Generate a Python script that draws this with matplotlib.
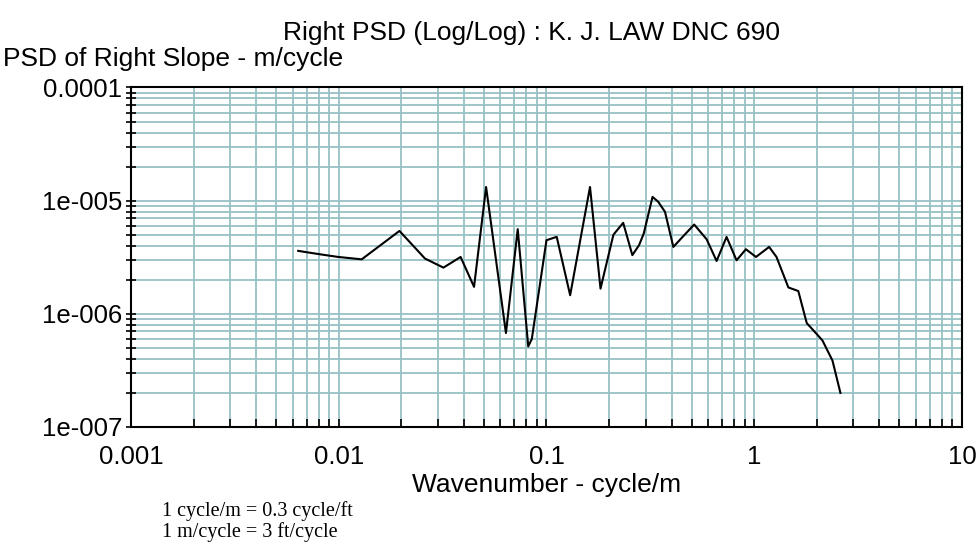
import numpy as np
import matplotlib.pyplot as plt
from matplotlib.ticker import LogLocator, NullFormatter, FixedLocator

# wavenumber (cycle/m) and PSD of right slope (m/cycle)
wavenumber = [0.00638, 0.00702, 0.00828, 0.00995, 0.0129, 0.0196, 0.026, 0.0319,
              0.0386, 0.0448, 0.0512, 0.0638, 0.0727, 0.0817, 0.085, 0.1, 0.112,
              0.13, 0.162, 0.182, 0.21, 0.234, 0.259, 0.279, 0.294, 0.324, 0.345,
              0.372, 0.408, 0.452, 0.514, 0.59, 0.659, 0.736, 0.822, 0.912, 1.02,
              1.18, 1.28, 1.46, 1.63, 1.79, 1.96, 2.13, 2.38, 2.6]
psd = [3.6e-6, 3.5e-6, 3.34e-6, 3.18e-6, 3.03e-6, 5.4e-6, 3.08e-6, 2.56e-6,
       3.18e-6, 1.73e-6, 1.32e-5, 6.76e-7, 5.6e-6, 5.15e-7, 6.0e-7, 4.47e-6, 4.79e-6,
       1.46e-6, 1.32e-5, 1.67e-6, 5.0e-6, 6.37e-6, 3.3e-6, 4.04e-6, 5.13e-6, 1.08e-5, 9.77e-6,
       7.96e-6, 3.9e-6, 4.78e-6, 6.15e-6, 4.56e-6, 2.93e-6, 4.78e-6, 2.97e-6, 3.72e-6, 3.18e-6,
       3.9e-6, 3.18e-6, 1.71e-6, 1.59e-6, 8.28e-7, 6.9e-7, 5.82e-7, 3.87e-7, 2.0e-7]

x_ticks = [0.001, 0.01, 0.1, 1, 10]
x_labels = ["0.001", "0.01", "0.1", "1", "10"]
y_ticks = [1e-7, 1e-6, 1e-5, 1e-4]
y_labels = ["1e-007", "1e-006", "1e-005", "0.0001"]

plt.rcParams['font.family'] = ['Liberation Sans', 'DejaVu Sans']

fig = plt.figure(figsize=(9.77, 5.42), dpi=100)
ax = fig.add_axes([0.1341, 0.2122, 0.8505, 0.6264])

grid_color = '#98c2c6'
ax.set_xscale('log')
ax.set_yscale('log')
ax.set_xlim(0.001, 10)
ax.set_ylim(1e-7, 1e-4)

ax.xaxis.set_major_locator(FixedLocator(x_ticks))
ax.yaxis.set_major_locator(FixedLocator(y_ticks))
ax.set_xticklabels(x_labels)
ax.set_yticklabels(y_labels)
ax.xaxis.set_minor_locator(LogLocator(base=10, subs=np.arange(2, 10), numticks=20))
ax.yaxis.set_minor_locator(LogLocator(base=10, subs=np.arange(2, 10), numticks=20))
ax.xaxis.set_minor_formatter(NullFormatter())
ax.yaxis.set_minor_formatter(NullFormatter())

ax.grid(True, which='both', color=grid_color, linewidth=1.3)
ax.set_axisbelow(True)

ax.plot(wavenumber, psd, color='black', linewidth=1.5)

for s in ax.spines.values():
    s.set_color('black')
    s.set_linewidth(1.5)

ax.tick_params(axis='x', which='both', direction='in', length=6, width=1.2,
               labelsize=18.5, pad=13, top=False)
ax.tick_params(axis='y', which='both', direction='inout', length=7, width=1.2,
               labelsize=18.5, pad=3, right=False)

fig.text(0.5445, 0.9262, "Right PSD (Log/Log) : K. J. LAW DNC 690", ha='center', va='baseline', fontsize=19)
fig.text(0.003, 0.8782, "PSD of Right Slope - m/cycle", ha='left', va='baseline', fontsize=19)
fig.text(0.5594, 0.0923, "Wavenumber - cycle/m", ha='center', va='baseline', fontsize=19)
fig.text(0.1655, 0.048, "1 cycle/m = 0.3 cycle/ft", ha='left', va='baseline',
         fontsize=14.5, family='Liberation Serif')
fig.text(0.1655, 0.0092, "1 m/cycle = 3 ft/cycle", ha='left', va='baseline',
         fontsize=14.5, family='Liberation Serif')

fig.savefig('out.png', dpi=100)
